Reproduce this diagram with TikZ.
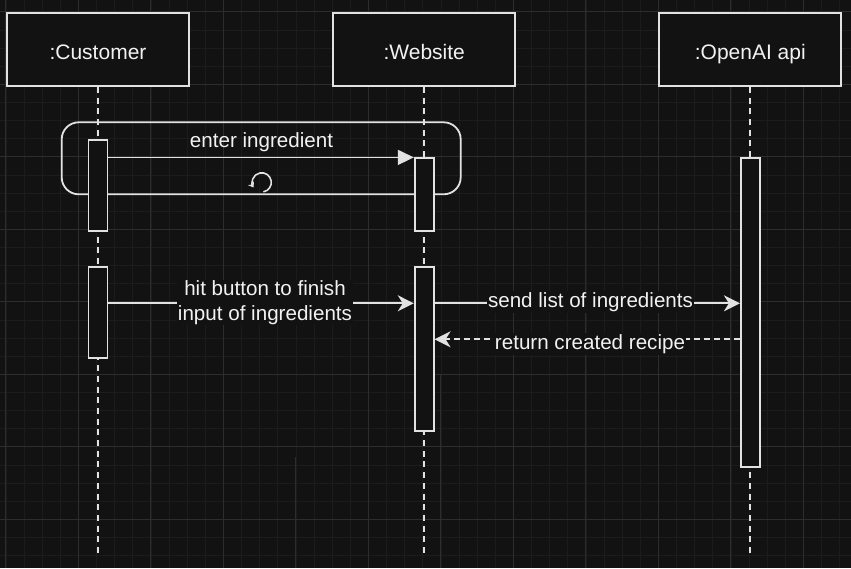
\documentclass[tikz,border=0pt]{standalone}
\usepackage{fontspec}
\setmainfont{Liberation Sans}
\usetikzlibrary{arrows.meta}
\definecolor{bg}{HTML}{121212}
\definecolor{gridminor}{HTML}{1C1C1C}
\definecolor{gridmajor}{HTML}{2D2D2D}
\definecolor{ink}{HTML}{E2E2E2}
\definecolor{txt}{HTML}{F2F2F2}
\begin{document}
\begin{tikzpicture}[x=1pt,y=-1pt,
  actor/.style={draw=ink, line width=1.9pt, fill=bg, minimum width=182pt, minimum height=72.7pt,
    text=txt, font=\fontsize{21}{25}\selectfont, text height=18.8pt, text depth=0pt, inner sep=0pt},
  bar/.style={draw=ink, line width=1.8pt, fill=bg, minimum width=19pt, inner sep=0pt},
  life/.style={draw=ink, line width=1.7pt, dash pattern=on 6pt off 4.7pt},
  lbl/.style={fill=bg, text=txt, font=\fontsize{20.6}{24.3}\selectfont, inner sep=1pt, anchor=base, align=center},
  msgfill/.style={draw=ink, line width=1.7pt, -{Triangle[length=16pt,width=15pt]}, color=ink},
  msgopen/.style={draw=ink, line width=1.7pt, -{Stealth[length=16pt,width=16pt,inset=5pt]}, color=ink},
  msgret/.style={msgopen, dash pattern=on 6pt off 4pt},
  loopframe/.style={draw=ink, line width=1.8pt, rounded corners=17pt, minimum width=399pt, minimum height=72pt, inner sep=0pt}
]
\fill[bg] (0,0) rectangle (851,568);
\useasboundingbox (0,0) rectangle (851,568);
% grid
\foreach \i in {0,...,46} {
  \pgfmathsetmacro{\gx}{5.9+18.125*\i}
  \draw[gridminor, line width=0.8pt] (\gx,0) -- (\gx,568);
}
\foreach \i in {0,...,31} {
  \pgfmathsetmacro{\gy}{11.8+18.125*\i}
  \draw[gridminor, line width=0.8pt] (0,\gy) -- (851,\gy);
}
\foreach \i in {0,1,2,3,5,7,8,9,10,11} {
  \pgfmathsetmacro{\gx}{5.9+72.5*\i}
  \draw[gridmajor, line width=1pt] (\gx,0) -- (\gx,568);
}
\draw[gridmajor, line width=1pt] (295.9,457) -- (295.9,568);
\draw[gridmajor, line width=1pt] (440.9,374) -- (440.9,568);
\foreach \i in {0,...,7} {
  \pgfmathsetmacro{\gy}{11.8+72.5*\i}
  \draw[gridmajor, line width=1pt] (0,\gy) -- (851,\gy);
}

% actors
\node[actor] (cust) at (98,49.6) {:Customer};
\node[actor] (web) at (424.2,49.6) {:Website};
\node[actor] (api) at (750.3,49.6) {:OpenAI api};

% loop frame
\node[loopframe] (loop) at (261.2,158.3) {};

% lifelines
\coordinate (custend) at (98,556);
\coordinate (webend) at (424.2,556);
\coordinate (apiend) at (750.3,556);
\draw[life] (cust.south) -- (custend);
\draw[life] (web.south) -- (webend);
\draw[life] (api.south) -- (apiend);

% activation bars
\node[bar, minimum height=90.7pt] (cbar1) at (98,185.3) {};
\node[bar, minimum height=72.4pt] (wbar1) at (424.2,194.5) {};
\node[bar, minimum height=91pt] (cbar2) at (98,312.2) {};
\node[bar, minimum height=164pt] (wbar2) at (424.2,348.7) {};
\node[bar, minimum height=308.4pt] (abar) at (750.3,312.5) {};

% messages
\coordinate (ymsg2) at (0,303.3);
\coordinate (yret) at (0,339.3);
\draw[msgfill] (cbar1.east |- wbar1.north west) -- (wbar1.north west);
\draw[msgopen] (cbar2.east |- ymsg2) -- (wbar2.west |- ymsg2);
\draw[msgopen] (wbar2.east |- ymsg2) -- (abar.west |- ymsg2);
\draw[msgret] (abar.west |- yret) -- (wbar2.east |- yret);

% labels
\node[lbl, fill=none] (l1) at (261.5,147.7) {enter ingredient};
\node[lbl] (l2) at (265,320) {hit button to finish\\input of ingredients};
\node[lbl] (l3) at (590.5,307.3) {send list of ingredients};
\node[lbl] (l4) at (590,349.3) {return created recipe};

% loop icon
\coordinate (loopc) at (261.7,182.4);
\draw[ink, line width=1.6pt, -{Stealth[length=5pt,width=7pt]}] (loopc) ++(80:9.6) arc[start angle=80, end angle=-212, radius=9.6];
\end{tikzpicture}
\end{document}
